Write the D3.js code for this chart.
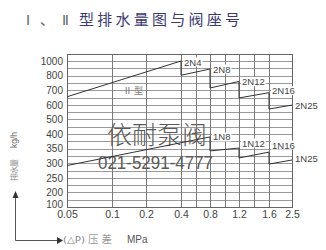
<!DOCTYPE html>
<html>
<head>
<meta charset="utf-8">
<script src="https://cdn.jsdelivr.net/npm/d3@7"></script>
<style>
  html, body { margin: 0; padding: 0; background: #fff; }
  svg { display: block; }
</style>
</head>
<body>
<svg id="chart" width="326" height="250"></svg>
<script>
// Pressure difference ticks (MPa) and flow ticks (kg/h)
const pressureGrid = [0.05, 0.1, 0.2, 0.4, 0.6, 0.8, 1.0, 1.2, 1.4, 1.6, 2.5];
const pressureLabels = [0.05, 0.1, 0.2, 0.4, 0.8, 1.2, 1.6, 2.5];
const flowTicks = [100, 200, 250, 300, 350, 400, 500, 600, 700, 800, 1000];

// Type II valves (2N seats): each seat covers a pressure range
const seatsII = ["2N4", "2N8", "2N12", "2N16", "2N25"];
const fromII = [0.05, 0.4, 0.8, 1.2, 1.6];
const toII = [0.4, 0.8, 1.2, 1.6, 2.5];
const startFlowII = [655, 805, 715, 647, 571];
const endFlowII = [1000, 890, 760, 683, 598];

// Type I valves (1N seats)
const seatsI = ["1N8", "1N12", "1N16", "1N25"];
const fromI = [0.05, 0.8, 1.2, 1.6];
const toI = [0.8, 1.2, 1.6, 2.5];
const startFlowI = [292, 342, 318, 297];
const endFlowI = [390, 352, 338, 311];

const svg = d3.select("#chart");

// Piecewise scales: the paper chart spaces its ticks unevenly
const x = d3.scaleLinear()
  .domain(pressureGrid)
  .range([67, 112, 146, 181, 195.5, 210, 224.5, 239, 254, 269, 292]);
const yStep = 14.6;
const y = d3.scaleLinear()
  .domain(flowTicks)
  .range(flowTicks.map((d, i) => 207 - i * yStep));

const plotLeft = x(0.05), plotRight = x(2.5), plotBottom = y(100), plotTop = y(1000) - yStep / 2;

// Title
const title = svg.append("g");
title.append("text").attr("x", 26).attr("y", 24.5)
  .attr("font-family", "Liberation Serif, serif").attr("font-size", 14)
  .attr("fill", "#666").text("Ⅰ");
title.append("text").attr("x", 40).attr("y", 24.5)
  .attr("font-family", "Noto Sans CJK SC").attr("font-size", 14)
  .attr("fill", "#666").text("、");
title.append("text").attr("x", 62).attr("y", 24.5)
  .attr("font-family", "Liberation Serif, serif").attr("font-size", 14)
  .attr("fill", "#666").text("Ⅱ");
title.append("text").attr("x", 79).attr("y", 24.5)
  .attr("font-family", "Noto Sans CJK SC").attr("font-size", 15)
  .attr("fill", "#3d3a6e")
  .attr("textLength", 161).attr("lengthAdjust", "spacing")
  .text("型排水量图与阀座号");

// Grid
const grid = svg.append("g").attr("shape-rendering", "crispEdges");
const hLines = [];
flowTicks.forEach(d => {
  hLines.push(y(d));
  hLines.push(y(d) - yStep / 2);
});
grid.selectAll("line.h").data(hLines).join("line")
  .attr("class", "h")
  .attr("x1", plotLeft).attr("x2", plotRight)
  .attr("y1", d => Math.round(d) + 0.5).attr("y2", d => Math.round(d) + 0.5)
  .attr("stroke", "#9a9a9a").attr("stroke-width", 1);
grid.selectAll("line.v").data(pressureGrid).join("line")
  .attr("class", "v")
  .attr("x1", d => Math.round(x(d)) + 0.5).attr("x2", d => Math.round(x(d)) + 0.5)
  .attr("y1", plotTop).attr("y2", plotBottom)
  .attr("stroke", "#7a7a7a").attr("stroke-width", 1);
grid.append("rect")
  .attr("x", Math.round(plotLeft) + 0.5).attr("y", Math.round(plotTop) + 0.5)
  .attr("width", Math.round(plotRight) - Math.round(plotLeft))
  .attr("height", Math.round(plotBottom) - Math.round(plotTop))
  .attr("fill", "none").attr("stroke", "#666");

// Axes (labels only; the grid carries the lines)
const yAxis = svg.append("g")
  .attr("transform", `translate(${plotLeft},0)`)
  .call(d3.axisLeft(y).tickValues(flowTicks).tickSize(0).tickPadding(4).tickFormat(d => d));
yAxis.select(".domain").remove();
yAxis.selectAll("text")
  .attr("font-family", "Liberation Sans, Arial, sans-serif")
  .attr("font-size", 10).attr("fill", "#444")
  .attr("dy", d => d === flowTicks[0] ? "0.02em" : "0.32em");

const xAxis = svg.append("g")
  .attr("transform", `translate(0,${plotBottom})`)
  .call(d3.axisBottom(x).tickValues(pressureLabels).tickSize(0).tickPadding(3.5).tickFormat(d => String(d)));
xAxis.select(".domain").remove();
xAxis.selectAll("text")
  .attr("font-family", "Liberation Sans, Arial, sans-serif")
  .attr("font-size", 10.5).attr("fill", "#444");

// Company name and phone number across the plot
svg.append("text").attr("x", 107).attr("y", 144)
  .attr("font-family", "Noto Sans CJK SC").attr("font-size", 25)
  .attr("font-weight", 300)
  .attr("fill", "#5a5a5a").attr("textLength", 100).attr("lengthAdjust", "spacing")
  .text("依耐泵阀");
svg.append("text").attr("x", 98).attr("y", 169)
  .attr("font-family", "Liberation Sans, Arial, sans-serif").attr("font-size", 18)
  .attr("fill", "#5a5a5a").attr("textLength", 115).attr("lengthAdjust", "spacingAndGlyphs")
  .text("021-5291-4777");

// Sawtooth flow curves: rise across each seat's range, drop at the change of seat
function curvePoints(from, to, v0, v1) {
  const pts = [];
  from.forEach((p, i) => {
    pts.push([x(p), y(v0[i])]);
    pts.push([x(to[i]), y(v1[i])]);
  });
  return pts;
}
const line = d3.line();
svg.append("path")
  .attr("d", line(curvePoints(fromII, toII, startFlowII, endFlowII)))
  .attr("fill", "none").attr("stroke", "#333").attr("stroke-width", 1);
svg.append("path")
  .attr("d", line(curvePoints(fromI, toI, startFlowI, endFlowI)))
  .attr("fill", "none").attr("stroke", "#333").attr("stroke-width", 1);

// Seat labels at the right end of each segment
function seatLabels(names, to, v1, nudges) {
  const g = svg.append("g");
  names.forEach((n, i) => {
    const lx = x(to[i]) + 3, ly = y(v1[i]) + nudges[i];
    const t = g.append("text").attr("x", lx).attr("y", ly)
      .attr("dominant-baseline", "middle")
      .attr("font-family", "Liberation Sans, Arial, sans-serif")
      .attr("font-size", 9.5).attr("fill", "#444").text(n);
    const b = t.node().getBBox();
    g.insert("rect", "text").attr("x", b.x - 1).attr("y", b.y + 1)
      .attr("width", b.width + 2).attr("height", b.height - 2).attr("fill", "#fff");
  });
}
seatLabels(seatsII, toII, endFlowII, [2, 1, 1, -1, 1]);
seatLabels(seatsI, toI, endFlowI, [1, -4, -6, -1]);

// Curve name
svg.append("text").attr("x", 123).attr("y", 92)
  .attr("dominant-baseline", "middle")
  .attr("font-family", "Noto Sans CJK SC").attr("font-size", 9)
  .attr("fill", "#777").text("Ⅱ 型");

// Vertical axis title with arrow
svg.append("text")
  .attr("transform", "translate(15,181) rotate(-90)")
  .attr("dominant-baseline", "middle")
  .attr("font-family", "Noto Sans CJK SC").attr("font-size", 8)
  .attr("fill", "#888").attr("textLength", 22).attr("lengthAdjust", "spacing")
  .text("排水量");
svg.append("text")
  .attr("transform", "translate(15,148) rotate(-90)")
  .attr("dominant-baseline", "middle")
  .attr("font-family", "Liberation Sans, Arial, sans-serif").attr("font-size", 8.5)
  .attr("fill", "#666").text("kg/h");

const arrows = svg.append("g");
arrows.append("path")
  .attr("d", "M15.5,197 L15.5,240.5 L58,240.5")
  .attr("fill", "none").attr("stroke", "#555").attr("stroke-width", 1);
arrows.append("path").attr("d", "M12.5,198 L18.5,198 L15.5,191 Z").attr("fill", "#333");
arrows.append("path").attr("d", "M57,237 L57,244 L63,240.5 Z").attr("fill", "#333");

// Horizontal axis title
svg.append("text").attr("x", 63).attr("y", 240.5)
  .attr("dominant-baseline", "middle")
  .attr("font-family", "DejaVu Sans, sans-serif").attr("font-size", 9.5)
  .attr("fill", "#888").attr("textLength", 22).attr("lengthAdjust", "spacingAndGlyphs")
  .text("(△P)");
svg.append("text").attr("x", 88).attr("y", 240.5)
  .attr("dominant-baseline", "middle")
  .attr("font-family", "Noto Sans CJK SC").attr("font-size", 10.5)
  .attr("fill", "#999").attr("textLength", 24).attr("lengthAdjust", "spacing")
  .text("压差");
svg.append("text").attr("x", 127).attr("y", 240.5)
  .attr("dominant-baseline", "middle")
  .attr("font-family", "Liberation Sans, Arial, sans-serif").attr("font-size", 10)
  .attr("fill", "#555").text("MPa");
</script>
</body>
</html>
